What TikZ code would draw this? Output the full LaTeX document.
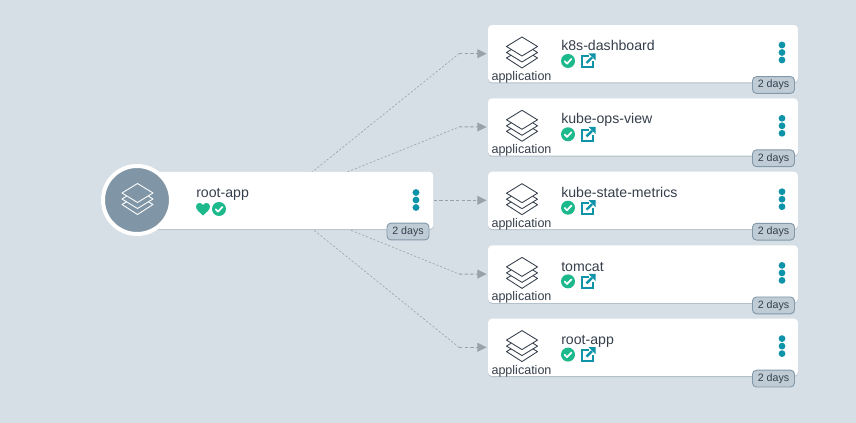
\documentclass[tikz,border=0pt]{standalone}
\usepackage{xcolor}
\usepackage{fontspec}
\setmainfont{Liberation Sans}
\usetikzlibrary{positioning,calc,arrows.meta,shadows}

\definecolor{pagebg}{HTML}{D6DFE6}
\definecolor{cardedge}{HTML}{B4C0CA}
\definecolor{inkdark}{HTML}{363F4C}
\definecolor{okgreen}{HTML}{1BB98C}
\definecolor{tealmark}{HTML}{0F93A8}
\definecolor{badgefill}{HTML}{BFCCD6}
\definecolor{badgeline}{HTML}{8398A8}
\definecolor{iconbg}{HTML}{8096A6}
\definecolor{linkgray}{HTML}{9AA2A9}

\pgfdeclarelayer{pagelayer}
\pgfdeclarelayer{linklayer}
\pgfsetlayers{pagelayer,linklayer,main}

\tikzset{
    cardbox/.style={fill=white, rounded corners=3pt, minimum height=43pt, inner sep=0pt,
        drop shadow={shadow xshift=0pt, shadow yshift=-0.8pt, fill=cardedge, opacity=1}},
    appbox/.style={cardbox, minimum width=232.5pt},
    rootbox/.style={cardbox, minimum width=212pt},
    nametext/.style={anchor=base west, inner sep=0pt, text=inkdark, font=\fontsize{10.6}{12}\selectfont},
    typetext/.style={anchor=base, inner sep=0pt, text=inkdark, font=\fontsize{9.4}{11}\selectfont},
    agebadge/.style={fill=badgefill, draw=badgeline, line width=0.7pt, rounded corners=3pt,
        minimum width=31.5pt, minimum height=12.6pt, inner sep=0pt, text=inkdark,
        font=\fontsize{8}{10}\selectfont},
    rootcircle/.style={circle, fill=iconbg, draw=white, line width=3pt, minimum size=51pt, inner sep=0pt},
    thinlink/.style={linkgray, line width=0.45pt, dash pattern=on 1.6pt off 1.4pt},
    endlink/.style={linkgray, line width=0.75pt, dash pattern=on 2.6pt off 1.6pt, shorten >=0.8pt,
        -{Triangle[length=7pt,width=6.6pt]}},
    stackicon/.pic={
        \draw[line width=0.65pt, line join=round]
            (0,-15.5) -- (15.5,-6) -- (0,3.5) -- (-15.5,-6) -- cycle;
        \draw[line width=0.65pt, line join=round]
            (-11,-2.8) -- (-15.5,0) -- (0,9.5) -- (15.5,0) -- (11,-2.8);
        \draw[line width=0.65pt, line join=round]
            (-11,2.8) -- (-15.5,5.5) -- (0,15.5) -- (15.5,5.5) -- (11,2.8);
    },
    okicon/.pic={
        \fill[okgreen] (0,0) circle (7);
        \draw[white, line width=1.3pt, line cap=round, line join=round]
            (-3.3,0.2) -- (-1,2.6) -- (3.4,-2);
    },
    hearticon/.pic={
        \fill[okgreen] (0,6.5) .. controls (-3,3.5) and (-7,1) .. (-7,-2.5)
            .. controls (-7,-5) and (-5.2,-6) .. (-3.5,-6)
            .. controls (-2,-6) and (-0.8,-5.2) .. (0,-4)
            .. controls (0.8,-5.2) and (2,-6) .. (3.5,-6)
            .. controls (5.2,-6) and (7,-5) .. (7,-2.5)
            .. controls (7,1) and (3,3.5) .. (0,6.5) -- cycle;
    },
    linkicon/.pic={
        \draw[tealmark, line width=1.5pt] (0.5,-4.5) -- (-6,-4.5) -- (-6,6.5) -- (5,6.5) -- (5,0.5);
        \draw[tealmark, line width=1.8pt] (-1.5,2) -- (4,-3.5);
        \fill[tealmark] (0.5,-7.5) -- (7.5,-7.5) -- (7.5,-0.5) -- cycle;
    },
    menudots/.pic={
        \fill[tealmark] (0,-7.5) circle (3.4);
        \fill[tealmark] (0,0) circle (3.4);
        \fill[tealmark] (0,7.5) circle (3.4);
    },
}

% one application card, #3 is the top edge
\newcommand{\appcard}[3]{%
    \begin{scope}[shift={(488,#3)}]
        \node[appbox] (#1) at (155,28.7) {};
        \begin{scope}
            \clip (0,0) rectangle (310,57.5);
            \node[typetext] (#1type) at (33.5,55.5) {application};
        \end{scope}
        \pic[color=inkdark] at (34,27.5) {stackicon};
        \node[nametext] (#1name) at (73,25.7) {#2};
        \pic at (80,36) {okicon};
        \pic at (100,36) {linkicon};
        \pic at (294,27.5) {menudots};
        \node[agebadge] (#1age) at (285.5,60) {2 days};
    \end{scope}
}

\begin{document}
\begin{tikzpicture}[x=0.75pt, y=-0.75pt]
    % Page
    \begin{pgfonlayer}{pagelayer}
        \fill[pagebg] (0,0) rectangle (856,423);
    \end{pgfonlayer}

    % Child applications
    \appcard{dashboard}{k8s-dashboard}{25}
    \appcard{opsview}{kube-ops-view}{98.3}
    \appcard{statemetrics}{kube-state-metrics}{171.7}
    \appcard{tomcat}{tomcat}{245.4}
    \appcard{childroot}{root-app}{318.6}

    % Root application
    \node[rootbox] (rootcard) at (292,200.5) {};
    \node[rootcircle] (rooticon) at (137,200) {};
    \pic[color=white] at (137.5,199) {stackicon};
    \node[nametext] (rootname) at (196,197.7) {root-app};
    \pic at (203,209) {hearticon};
    \pic at (219,209) {okicon};
    \pic at (416,200) {menudots};
    \node[agebadge] (rootage) at (408,231.5) {2 days};

    % Connectors
    \coordinate (hub) at (277,200.3);
    \coordinate (benda) at (459,53.7);
    \coordinate (bendb) at (459,127);
    \coordinate (bendd) at (459,274);
    \coordinate (bende) at (459,347.3);
    \begin{pgfonlayer}{linklayer}
        \draw[thinlink] (hub) -- (benda);
        \draw[endlink] (benda) -- (dashboard.west);
        \draw[thinlink] (hub) -- (bendb);
        \draw[endlink] (bendb) -- (opsview.west);
        \draw[endlink] (rootcard.east |- hub) -- (statemetrics.west |- hub);
        \draw[thinlink] (hub) -- (bendd);
        \draw[endlink] (bendd) -- (tomcat.west);
        \draw[thinlink] (hub) -- (bende);
        \draw[endlink] (bende) -- (childroot.west);
    \end{pgfonlayer}
\end{tikzpicture}
\end{document}
